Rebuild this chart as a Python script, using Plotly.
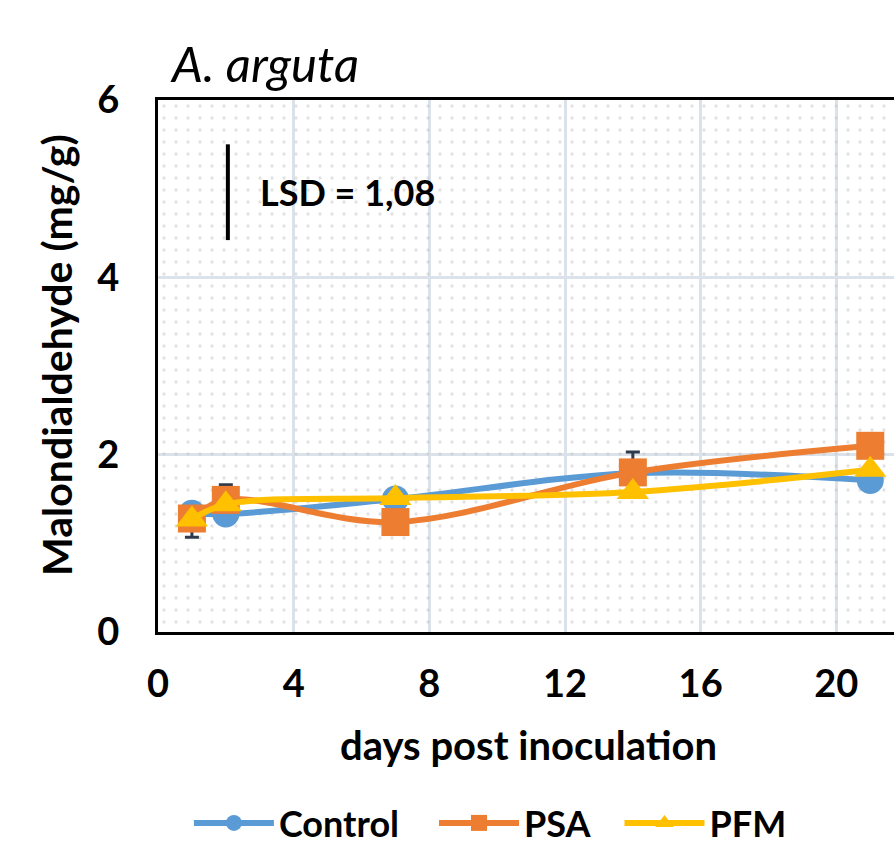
import plotly.graph_objects as go

# Malondialdehyde content in A. arguta leaves after inoculation
days = [1, 2, 7, 14, 21]
control = [1.34, 1.33, 1.50, 1.79, 1.71]
psa = [1.28, 1.49, 1.24, 1.80, 2.10]
pfm = [1.27, 1.44, 1.51, 1.58, 1.83]
psa_err_plus = [0.0, 0.17, 0.0, 0.23, 0.0]
psa_err_minus = [0.21, 0.0, 0.0, 0.0, 0.0]
lsd = 1.08
lsd_x = 2.06
lsd_base = 4.42

x_range = [0, 21.7]
y_range = [0, 6]
x_ticks = [0, 4, 8, 12, 16, 20]
y_ticks = [0, 2, 4, 6]

FONT = "Lato, Liberation Sans, Arial, sans-serif"
BLUE = "#5B9BD5"
ORANGE = "#ED7D31"
YELLOW = "#FFC000"
ERR = "#2f3b4c"

fig = go.Figure()

# dotted plot-area fill (transparent base so the gridlines stay visible)
fig.add_trace(go.Bar(
    x=[(x_range[0] + x_range[1]) / 2], y=[y_range[1]],
    width=[x_range[1] - x_range[0]],
    marker=dict(color="rgba(0,0,0,0)", line=dict(width=0),
                pattern=dict(shape=".", size=12, solidity=0.06,
                             fgcolor="#c4c4c4", fillmode="overlay")),
    showlegend=False, hoverinfo="skip",
))

fig.add_trace(go.Scatter(
    x=days, y=control, name="Control", mode="lines+markers", legend="legend",
    line=dict(color=BLUE, width=6, shape="spline", smoothing=1),
    marker=dict(symbol="circle", size=27, color=BLUE, line=dict(width=0)),
))
fig.add_trace(go.Scatter(
    x=days, y=psa, name="PSA", mode="lines+markers", legend="legend2",
    line=dict(color=ORANGE, width=6, shape="spline", smoothing=1),
    marker=dict(symbol="square", size=28, color=ORANGE, line=dict(width=0)),
    error_y=dict(type="data", symmetric=False, array=psa_err_plus,
                 arrayminus=psa_err_minus, color=ERR, thickness=3, width=7),
))
fig.add_trace(go.Scatter(
    x=days, y=pfm, name="PFM", mode="lines+markers", legend="legend3",
    line=dict(color=YELLOW, width=6, shape="spline", smoothing=1),
    marker=dict(symbol="triangle-up", size=28, color=YELLOW, line=dict(width=0)),
))

# LSD bar, drawn with the LSD value as its length
fig.add_shape(type="line", x0=lsd_x, x1=lsd_x, y0=lsd_base, y1=lsd_base + lsd,
              xref="x", yref="y", line=dict(color="black", width=4))
fig.add_annotation(x=lsd_x + 0.88, y=lsd_base + lsd / 2, xref="x", yref="y",
                   text="<b>LSD = " + f"{lsd:.2f}".replace(".", ",") + "</b>",
                   showarrow=False, xanchor="left", yanchor="middle",
                   font=dict(family=FONT, size=36, color="black"))

fig.add_annotation(x=0.0136, y=1.07, xref="paper", yref="paper",
                   text="A. arguta", showarrow=False, xanchor="left",
                   yanchor="middle",
                   font=dict(family=FONT, size=49, color="black", style="italic"))
fig.add_annotation(x=0.504, y=-0.212, xref="paper", yref="paper",
                   text="<b>days post inoculation</b>", showarrow=False,
                   xanchor="center", yanchor="middle",
                   font=dict(family=FONT, size=40, color="black"))
fig.add_annotation(x=-0.137, y=0.521, xref="paper", yref="paper",
                   text="<b>Malondialdehyde (mg/g)</b>", showarrow=False,
                   textangle=-90, xanchor="center", yanchor="middle",
                   font=dict(family=FONT, size=41, color="black"))

legend_style = dict(orientation="h", y=-0.4154, yanchor="bottom",
                    xanchor="left",
                    font=dict(family=FONT, size=36, color="black", weight="bold"),
                    bgcolor="rgba(0,0,0,0)", itemsizing="trace", itemwidth=80)

fig.update_layout(
    width=894, height=853,
    margin=dict(l=158, r=0, t=100, b=221),
    paper_bgcolor="white", plot_bgcolor="white",
    font=dict(family=FONT, color="black"),
    showlegend=True,
    legend=dict(x=0.042, **legend_style),
    legend2=dict(x=0.375, **legend_style),
    legend3=dict(x=0.627, **legend_style),
    xaxis=dict(range=x_range, tickvals=x_ticks, ticks="", ticklabelstandoff=16,
               tickfont=dict(family=FONT, size=38, color="black", weight="bold"),
               showgrid=True, gridcolor="#dbe2ea", gridwidth=3,
               showline=True, linecolor="black", linewidth=3, mirror=True,
               zeroline=False),
    yaxis=dict(range=y_range, tickvals=y_ticks, ticks="", ticklabelstandoff=28,
               tickfont=dict(family=FONT, size=38, color="black", weight="bold"),
               showgrid=True, gridcolor="#dbe2ea", gridwidth=3,
               showline=True, linecolor="black", linewidth=3, mirror=False,
               zeroline=False),
)

fig.write_html("out.html")
